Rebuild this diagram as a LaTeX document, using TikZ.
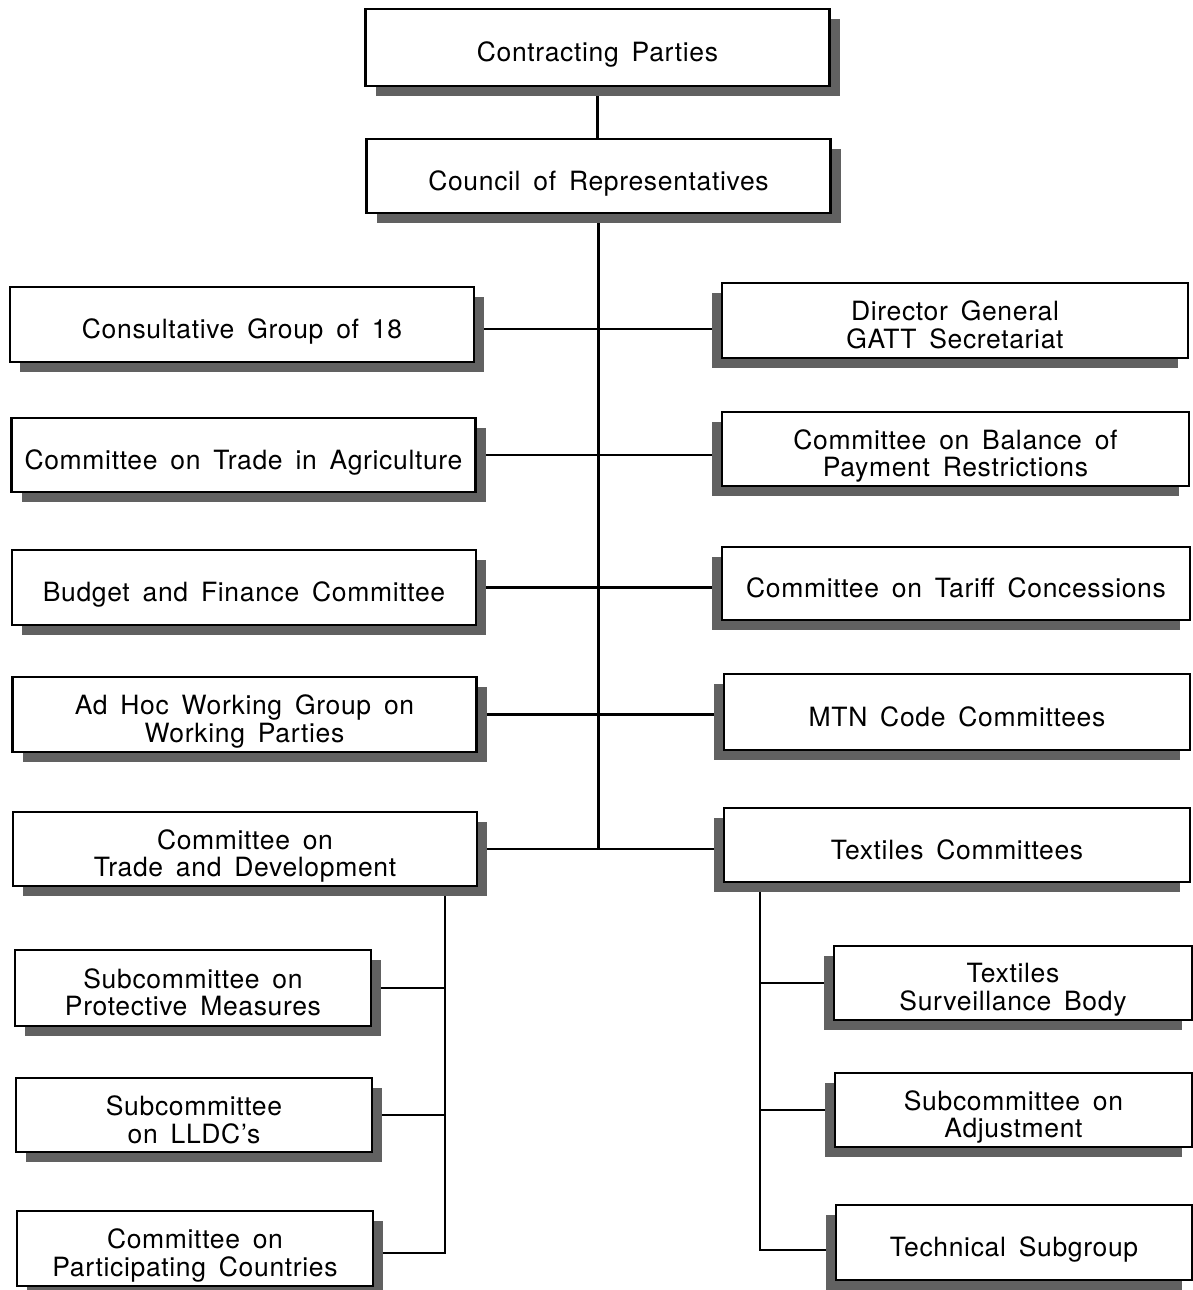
\documentclass[tikz,border=0pt]{standalone}
\usepackage{fontspec}
\setmainfont[LetterSpace=2.5,WordSpace=1.6]{TeX Gyre Heros}
\usetikzlibrary{shadows,backgrounds}
\newcommand\boxtxt[1]{\raisebox{-14.5pt}[0pt][0pt]{\begin{tabular}{@{}c@{}}#1\end{tabular}}}
\begin{document}
\begin{tikzpicture}[x=1pt,y=-1pt,
  base/.style={draw, line width=2.2pt, fill=white, inner sep=0pt,
    font=\fontsize{26.5}{27}\selectfont, minimum height=75pt},
  rshad/.style={base, drop shadow={shadow xshift=10pt, shadow yshift=-10pt, fill=black!62, opacity=1}},
  lshad/.style={base, drop shadow={shadow xshift=-10pt, shadow yshift=-10pt, fill=black!62, opacity=1}},
  big/.style={minimum width=464pt},
  small/.style={minimum width=356pt},
  conn/.style={line width=2.2pt}]
\useasboundingbox (0,0) rectangle (1193,1290);
\node[rshad,big,minimum height=77pt] (cp) at (597.5,47.5) {\boxtxt{Contracting Parties}};
\node[rshad,big,minimum height=74pt] (cr) at (598.5,176) {\boxtxt{Council of Representatives}};
\node[rshad,big] (cg) at (242,324.5) {\boxtxt{Consultative Group of 18}};
\node[rshad,big,minimum height=74pt] (cta) at (243.5,455) {\boxtxt{Committee on Trade in Agriculture}};
\node[rshad,big] (bf) at (244,587.5) {\boxtxt{Budget and Finance Committee}};
\node[rshad,big] (ah) at (244.5,714.5) {\boxtxt{Ad Hoc Working Group on\\Working Parties}};
\node[rshad,big,minimum height=74pt] (td) at (245,849) {\boxtxt{Committee on\\Trade and Development}};
\node[lshad,big,minimum width=466pt] (dg) at (955,320.5) {\boxtxt{Director General\\GATT Secretariat}};
\node[lshad,big,minimum width=467pt,minimum height=74pt] (bp) at (955.5,449) {\boxtxt{Committee on Balance of\\Payment Restrictions}};
\node[lshad,big,minimum width=468pt,minimum height=73pt] (tc) at (956,583.5) {\boxtxt{Committee on Tariff Concessions}};
\node[lshad,big,minimum width=466pt,minimum height=76pt] (mtn) at (957,712) {\boxtxt{MTN Code Committees}};
\node[lshad,big,minimum width=466pt,minimum height=74pt] (tx) at (957,845) {\boxtxt{Textiles Committees}};
\node[rshad,small,minimum height=76pt] (pm) at (193,988) {\boxtxt{Subcommittee on\\Protective Measures}};
\node[rshad,small,minimum height=74pt] (ll) at (194,1115) {\boxtxt{Subcommittee\\on LLDC's}};
\node[rshad,small] (pc) at (195,1248.5) {\boxtxt{Committee on\\Participating Countries}};
\node[lshad,small,minimum width=358pt,minimum height=74pt] (tsb) at (1013,983) {\boxtxt{Textiles\\Surveillance Body}};
\node[lshad,small,minimum width=357pt,minimum height=74pt] (adj) at (1013.5,1110) {\boxtxt{Subcommittee on\\Adjustment}};
\node[lshad,small] (ts) at (1014,1242.5) {\boxtxt{Technical Subgroup}};
\coordinate (h1) at (600,329);
\coordinate (lb) at (445,1253);
\coordinate (rb) at (760,1250);
\begin{scope}[on background layer]
\draw[conn] (cp.south) -- (cp.south |- cr.north);
\draw[conn] (cr.south) -- (cr.south |- td.east);
\draw[conn] (h1 -| cg.east) -- (h1 -| dg.west);
\draw[conn] (cta.east) -- (cta.east -| bp.west);
\draw[conn] (bf.east) -- (bf.east -| tc.west);
\draw[conn] (ah.east) -- (ah.east -| mtn.west);
\draw[conn] (td.east) -- (td.east -| tx.west);
\draw[conn] (lb |- td.south) -- (lb) -- (lb -| pc.east);
\draw[conn] (lb |- pm.east) -- (pm.east);
\draw[conn] (lb |- ll.east) -- (ll.east);
\draw[conn] (rb |- tx.south) -- (rb) -- (rb -| ts.west);
\draw[conn] (rb |- tsb.west) -- (tsb.west);
\draw[conn] (rb |- adj.west) -- (adj.west);
\end{scope}
\end{tikzpicture}
\end{document}
